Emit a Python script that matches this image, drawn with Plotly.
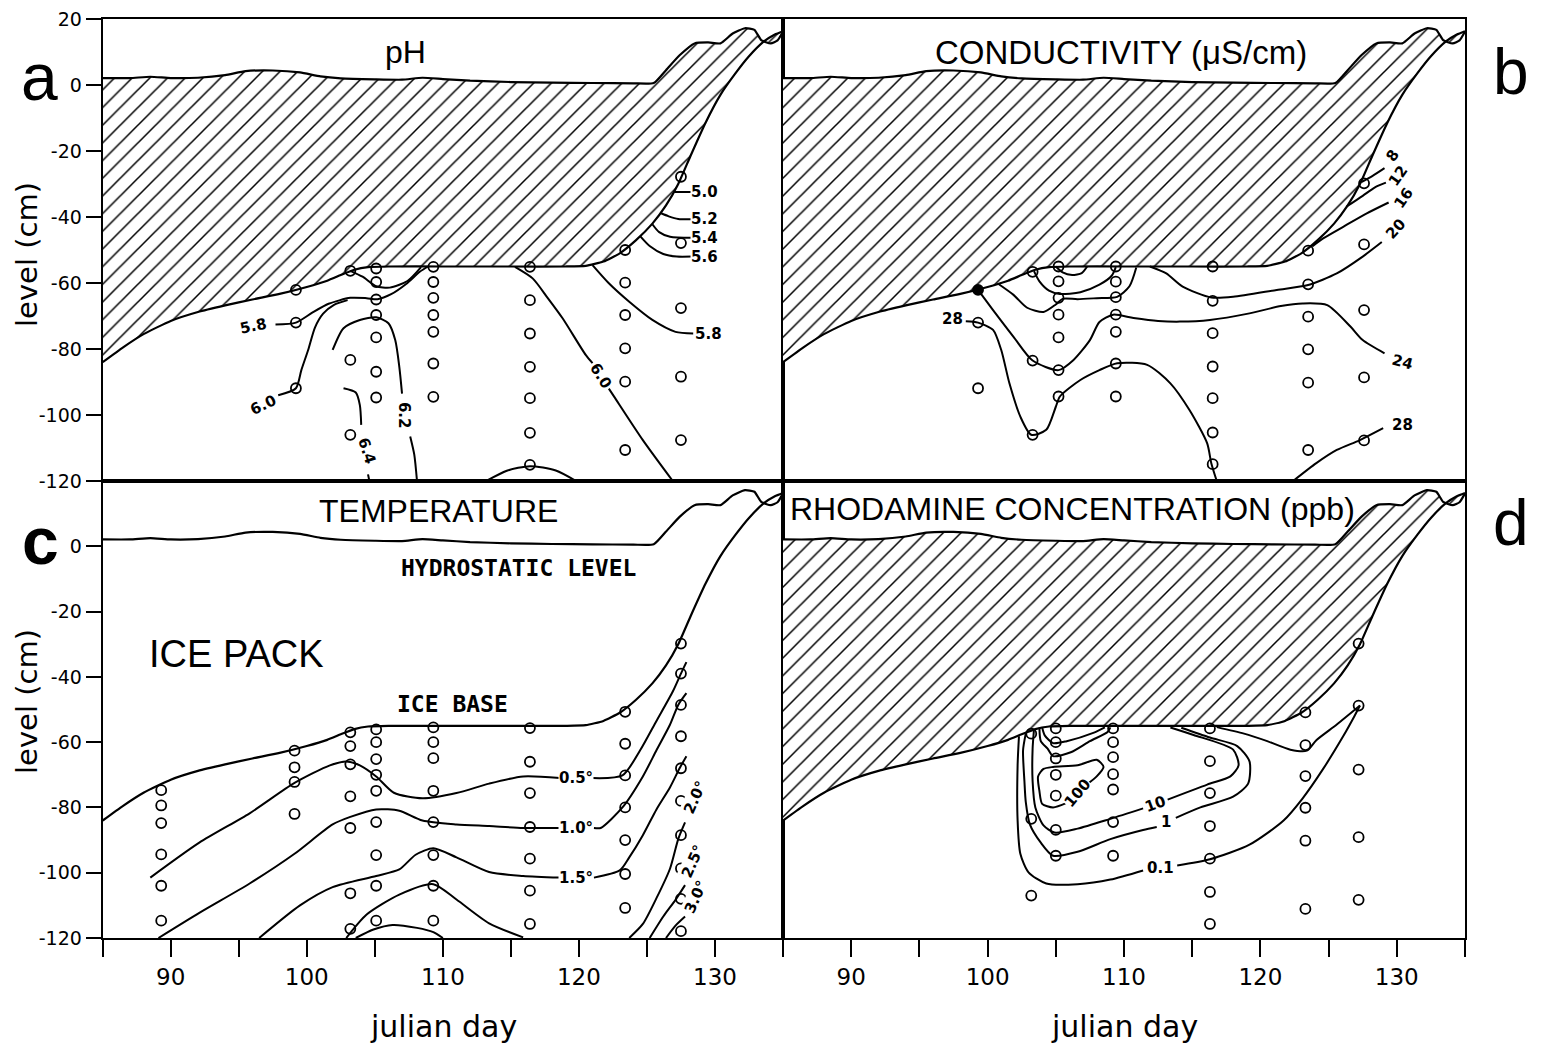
import plotly.graph_objects as go

# ------------------------------------------------------------------ data ----
# Ice surface (hydrostatic level) and ice base: julian day vs level (cm)
HYDRO_DAY = [85.0, 87.0, 88.5, 90.0, 92.0, 94.0, 95.5, 97.5, 99.5, 101.0, 102.5, 105.0,
             107.0, 108.5, 110.0, 112.0, 115.0, 118.0, 121.0, 124.0, 125.5, 126.4, 127.4,
             128.5, 129.5, 130.4, 131.3, 132.2, 132.9, 133.4, 134.1, 134.6, 135.0]
HYDRO_LEVEL = [2.1, 2.1, 2.5, 2.1, 2.2, 3.0, 4.2, 4.4, 3.8, 2.6, 2.0, 1.7,
               1.6, 2.2, 1.8, 1.3, 0.9, 0.7, 0.6, 0.5, 0.6, 4.5, 9.0,
               12.6, 12.9, 12.6, 15.6, 17.2, 16.7, 13.6, 12.6, 13.5, 16.2]
ICE_BASE_DAY = [85.0, 86.5, 88.0, 90.0, 92.0, 94.0, 96.0, 98.0, 100.0, 101.5, 102.5, 103.5,
                104.5, 106.0, 110.0, 115.0, 119.0, 120.5, 121.8, 123.0, 124.2, 125.4, 126.4,
                127.3, 128.2, 129.3, 130.4, 131.5, 132.5, 133.6, 134.4, 135.0]
ICE_BASE_LEVEL = [-84.0, -79.5, -75.5, -71.5, -68.8, -66.8, -65.0, -63.3, -61.2, -59.3, -57.6, -56.0,
                  -55.2, -55.0, -55.0, -55.0, -55.0, -54.8, -53.5, -51.0, -47.0, -42.0, -36.5,
                  -30.0, -21.5, -11.5, -3.0, 3.5, 8.7, 13.2, 15.3, 16.3]

# Sampling stations (day) and sampled levels (cm) for each panel
PH_STATION_DAY = [99.2, 103.2, 105.1, 109.3, 116.4, 123.4, 127.5]
PH_STATION_LEVELS = [
    [-62.1, -72.0, -91.9],
    [-56.3, -83.3, -106.0],
    [-55.6, -59.7, -65.0, -69.7, -76.5, -86.9, -94.7],
    [-55.1, -59.7, -64.5, -69.7, -74.8, -84.4, -94.5],
    [-55.1, -65.2, -75.3, -85.4, -94.9, -105.4, -115.1],
    [-50.0, -59.9, -69.7, -79.8, -89.9, -110.6],
    [-27.8, -47.9, -67.6, -88.4, -107.6],
]
COND_STATION_DAY = [99.3, 103.3, 105.2, 109.4, 116.5, 123.5, 127.6]
COND_STATION_LEVELS = [
    [-72.0, -91.9],
    [-56.6, -83.5, -106.0],
    [-55.0, -59.5, -64.5, -69.6, -76.5, -86.4, -94.4],
    [-55.0, -59.6, -64.3, -69.6, -74.8, -84.4, -94.4],
    [-55.0, -65.4, -75.2, -85.3, -94.9, -105.3, -114.9],
    [-50.2, -60.4, -70.2, -80.1, -90.2, -110.6],
    [-29.8, -48.3, -68.2, -88.6, -107.7],
]
COND_SOLID_DAY = [99.3]
COND_SOLID_LEVEL = [-62.1]
TEMP_STATION_DAY = [89.3, 99.1, 103.2, 105.1, 109.3, 116.4, 123.4, 127.5]
TEMP_STATION_LEVELS = [
    [-74.7, -79.4, -84.8, -94.4, -104.0, -114.7],
    [-62.6, -67.7, -72.2, -82.0],
    [-57.0, -61.2, -66.8, -76.6, -86.3, -106.3, -117.2],
    [-56.1, -60.0, -65.2, -70.0, -74.9, -84.5, -94.6, -104.0, -114.7],
    [-55.5, -60.0, -64.9, -74.9, -84.5, -94.6, -104.0, -114.7],
    [-55.7, -66.0, -75.6, -86.0, -95.7, -105.5, -115.7],
    [-50.7, -60.5, -70.2, -80.0, -90.0, -100.4, -110.8],
    [-29.8, -39.0, -48.6, -58.2, -68.0, -78.0, -88.5, -98.7, -108.0, -117.9],
]
RHOD_STATION_DAY = [103.2, 105.0, 109.2, 116.3, 123.3, 127.2]
RHOD_STATION_LEVELS = [
    [-57.4, -83.5, -107.0],
    [-55.8, -60.0, -65.0, -70.0, -76.4, -86.9, -94.8],
    [-55.8, -60.0, -64.6, -69.8, -74.5, -84.5, -94.8],
    [-55.8, -65.8, -75.6, -85.7, -95.7, -105.9, -115.7],
    [-50.9, -60.9, -70.4, -80.1, -90.2, -111.1],
    [-29.8, -48.8, -68.4, -89.1, -108.3],
]

# pH isolines (day, level)
PH_50 = [(127.0, -32.4), (128.3, -32.4)]
PH_52 = [(126.0, -38.8), (126.6, -39.8), (127.3, -40.6), (128.3, -40.7)]
PH_54 = [(125.4, -42.2), (125.9, -44.6), (126.7, -46.0), (128.3, -46.3)]
PH_56 = [(124.5, -45.8), (125.2, -48.8), (126.2, -51.2), (127.2, -52.0), (128.3, -52.0)]
PH_58_WEST = [(97.7, -72.6), (99.2, -72.0), (100.4, -69.0), (101.6, -66.3), (103.2, -64.5),
              (104.4, -64.6), (105.2, -64.9), (106.2, -63.4), (107.3, -60.3), (108.3, -56.6),
              (108.9, -55.0)]
PH_58_POCKET = [(103.2, -56.3), (104.1, -58.1), (105.1, -61.0), (106.1, -61.4), (107.4, -59.4),
                (108.4, -55.2)]
PH_60_WEST = [(97.9, -94.0), (99.2, -91.9), (99.6, -86.4), (100.1, -80.3), (100.6, -73.5),
              (101.2, -69.3), (102.0, -66.6), (103.0, -65.2)]
PH_62_UPPER = [(101.9, -80.3), (102.7, -73.7), (103.9, -71.2), (105.1, -70.4), (106.0, -72.2),
               (106.5, -77.3), (106.8, -85.4), (107.0, -93.5)]
PH_62_LOWER = [(107.6, -106.5), (107.9, -112.0), (108.1, -120.0)]
PH_64_UPPER = [(102.7, -91.9), (103.6, -93.2), (103.9, -97.0), (104.0, -103.0)]
PH_64_LOWER = [(104.5, -118.0), (104.6, -120.0)]
PH_FLOOR = [(113.2, -120.0), (114.7, -116.9), (116.4, -115.5), (118.3, -116.8), (119.8, -120.0)]
PH_60_EAST_UPPER = [(115.3, -55.1), (116.6, -58.6), (117.7, -64.5), (118.8, -70.7), (120.5, -81.8),
                    (121.0, -84.3)]
PH_60_EAST_LOWER = [(122.2, -92.0), (122.6, -94.5), (124.7, -107.6), (126.9, -120.0)]
PH_58_EAST = [(121.0, -54.6), (122.2, -60.1), (123.7, -65.7), (125.4, -71.2), (127.1, -74.8),
              (128.4, -75.3)]
PH_LINES = [PH_50, PH_52, PH_54, PH_56, PH_58_WEST, PH_58_POCKET, PH_60_WEST, PH_62_UPPER,
            PH_62_LOWER, PH_64_UPPER, PH_64_LOWER, PH_FLOOR, PH_60_EAST_UPPER, PH_60_EAST_LOWER,
            PH_58_EAST]
PH_LABEL_TEXT = ["5.0", "5.2", "5.4", "5.6", "5.8", "5.8", "6.0", "6.2", "6.4", "6.0"]
PH_LABEL_DAY = [129.2, 129.2, 129.2, 129.2, 129.5, 96.1, 96.8, 107.2, 104.4, 121.6]
PH_LABEL_LEVEL = [-32.4, -40.7, -46.3, -52.0, -75.4, -73.0, -97.0, -100.2, -111.0, -88.3]
PH_LABEL_ANGLE = [0, 0, 0, 0, 0, -12, -25, 90, 72, 58]

# conductivity isolines (uS/cm)
COND_8 = [(127.4, -29.4), (128.2, -27.6), (129.1, -25.2)]
COND_12 = [(126.3, -36.9), (127.5, -33.6), (128.4, -31.0), (129.2, -29.6)]
COND_16 = [(123.8, -48.9), (124.6, -46.5), (126.1, -42.9), (127.8, -38.9), (129.4, -35.6)]
COND_20 = [(111.9, -55.0), (113.1, -57.1), (114.3, -61.1), (116.4, -64.4), (118.0, -64.2),
           (121.2, -62.1), (123.5, -60.6), (125.6, -57.1), (127.5, -52.0), (128.9, -47.6)]
COND_24 = [(99.3, -62.1), (100.4, -68.2), (101.9, -76.3), (103.3, -83.5), (105.2, -86.4),
           (106.3, -83.3), (107.5, -77.3), (108.2, -71.8), (109.2, -69.6), (110.7, -70.6),
           (112.5, -71.5), (114.1, -71.7), (116.3, -71.2), (119.2, -69.2), (121.5, -67.0),
           (123.1, -66.2), (124.9, -66.7), (126.6, -73.2), (127.5, -77.3), (129.1, -81.3)]
COND_28_WEST = [(98.4, -71.6), (99.3, -72.0), (100.4, -74.2), (101.0, -80.3), (101.6, -90.4),
                (102.4, -100.5), (103.2, -106.0), (104.3, -104.5), (105.0, -97.5), (105.3, -94.4),
                (106.8, -89.4), (108.2, -86.4), (109.5, -84.3), (111.7, -84.8), (113.4, -90.4),
                (114.8, -98.5), (116.1, -108.6), (116.4, -114.6), (116.8, -120.0)]
COND_28_EAST = [(122.4, -120.0), (124.1, -114.6), (125.6, -110.6), (127.3, -107.6), (129.0, -104.0)]
COND_POCKET_A = [(105.0, -55.0), (105.5, -56.8), (106.2, -57.6), (106.9, -57.0), (107.3, -55.0)]
COND_POCKET_B = [(103.4, -56.4), (103.8, -59.5), (104.5, -62.3), (105.3, -63.3), (106.8, -62.8),
                 (108.2, -60.5), (109.1, -57.8), (109.4, -55.2)]
COND_POCKET_C = [(100.8, -60.3), (101.9, -63.6), (102.9, -67.5), (104.1, -68.8), (105.0, -66.5),
                 (105.5, -64.8), (106.6, -64.9), (108.0, -64.6), (109.5, -64.2), (110.4, -61.0),
                 (110.9, -55.3)]
COND_LINES = [COND_8, COND_12, COND_16, COND_20, COND_24, COND_28_WEST, COND_28_EAST,
              COND_POCKET_A, COND_POCKET_B, COND_POCKET_C]
COND_LABEL_TEXT = ["28", "8", "12", "16", "20", "24", "28"]
COND_LABEL_DAY = [97.4, 129.7, 130.1, 130.5, 129.9, 130.4, 130.4]
COND_LABEL_LEVEL = [-70.8, -21.6, -27.6, -34.2, -43.5, -84.0, -103.0]
COND_LABEL_ANGLE = [0, -55, -55, -55, -48, 15, 0]

# temperature isotherms (deg C)
TEMP_05_WEST = [(88.5, -101.5), (92.1, -90.8), (95.8, -81.8), (99.1, -72.5), (101.7, -67.1),
                (102.9, -65.9), (103.9, -67.1), (105.1, -70.5), (106.4, -75.5), (108.5, -77.2),
                (111.0, -75.6), (113.4, -72.7), (115.9, -70.5), (118.6, -71.0)]
TEMP_05_EAST = [(121.0, -71.0), (123.2, -70.2), (124.5, -62.5), (125.7, -53.5), (126.9, -44.5),
                (127.5, -39.0), (127.9, -35.5)]
TEMP_10_WEST = [(89.1, -120.0), (92.1, -112.3), (95.8, -103.3), (99.1, -94.2), (101.9, -85.2),
                (103.2, -82.9), (105.1, -80.6), (106.8, -81.0), (108.5, -84.0), (111.0, -85.2),
                (113.4, -85.7), (115.9, -86.3), (118.6, -86.3)]
TEMP_10_EAST = [(121.1, -86.3), (121.6, -86.3), (123.2, -80.0), (124.7, -70.5), (125.7, -62.5),
                (126.7, -54.6), (127.3, -48.6), (127.9, -45.0)]
TEMP_15_WEST = [(96.5, -120.0), (99.5, -110.0), (101.9, -104.4), (105.1, -101.0), (106.8, -99.0),
                (108.0, -94.5), (109.3, -92.5), (111.0, -95.3), (113.4, -99.8), (115.9, -101.0),
                (118.6, -101.5)]
TEMP_15_EAST = [(121.1, -101.5), (123.0, -99.3), (123.7, -95.3), (124.7, -88.5), (125.7, -80.6),
                (126.7, -73.8), (127.4, -68.0), (127.9, -64.3)]
TEMP_20_WEST = [(102.9, -120.0), (104.4, -112.8), (106.8, -106.7), (109.3, -103.5), (111.0, -108.2),
                (113.4, -115.5), (115.9, -119.8)]
TEMP_20_EAST = [(123.7, -120.0), (124.7, -115.7), (125.7, -107.8), (126.7, -98.7), (127.3, -89.7),
                (127.8, -84.6)]
TEMP_25_WEST = [(103.6, -120.0), (104.9, -117.4), (106.3, -116.0), (108.1, -116.9), (109.3, -118.2),
                (110.0, -120.0)]
TEMP_25_EAST = [(125.2, -120.0), (126.2, -113.4), (127.1, -108.3), (127.8, -103.8)]
TEMP_30_EAST = [(126.4, -120.0), (127.1, -116.2), (127.8, -113.4)]
TEMP_LINES = [TEMP_05_WEST, TEMP_05_EAST, TEMP_10_WEST, TEMP_10_EAST, TEMP_15_WEST, TEMP_15_EAST,
              TEMP_20_WEST, TEMP_20_EAST, TEMP_25_WEST, TEMP_25_EAST, TEMP_30_EAST]
TEMP_LABEL_TEXT = ["0.5\u00b0", "1.0\u00b0", "1.5\u00b0", "2.0\u00b0", "2.5\u00b0", "3.0\u00b0"]
TEMP_LABEL_DAY = [119.8, 119.8, 119.8, 128.5, 128.4, 128.6]
TEMP_LABEL_LEVEL = [-71.0, -86.4, -101.6, -77.0, -96.5, -107.5]
TEMP_LABEL_ANGLE = [0, 0, 0, -66, -66, -66]

# rhodamine isolines (ppb)
RHOD_01_RISE = [(116.8, -55.4), (118.8, -57.4), (120.5, -59.7), (122.2, -62.3), (123.4, -62.6),
                (124.1, -59.4), (125.6, -54.6), (127.3, -48.8)]
RHOD_01_FALL = [(127.3, -48.8), (126.9, -52.0), (126.1, -58.0), (124.6, -68.2), (123.1, -77.2),
                (121.7, -84.0), (119.2, -91.4), (116.3, -95.9), (113.9, -97.8)]
RHOD_01_WEST = [(111.4, -99.3), (109.0, -102.1), (106.6, -103.5), (104.3, -103.3), (103.0, -99.9),
                (102.4, -94.2), (102.2, -84.0), (102.2, -67.1), (102.3, -58.2)]
RHOD_1_WEST = [(102.8, -57.3), (102.6, -62.5), (102.7, -72.0), (102.8, -78.4), (103.1, -85.2),
               (103.9, -90.8), (104.8, -94.8), (106.6, -93.6), (109.0, -89.7), (111.4, -86.9),
               (112.4, -86.0)]
RHOD_1_EAST = [(113.8, -83.2), (115.6, -80.0), (118.0, -76.7), (119.1, -72.7), (119.2, -65.9),
               (118.3, -61.2), (116.3, -58.6), (114.2, -55.6)]
RHOD_10_WEST = [(103.4, -56.2), (103.3, -62.0), (103.3, -72.0), (103.5, -80.0), (104.1, -85.5),
                (104.9, -87.7), (106.6, -86.5), (109.0, -83.5), (111.4, -80.3)]
RHOD_10_EAST = [(113.2, -77.6), (116.1, -73.0), (117.8, -70.5), (118.4, -67.1), (118.0, -62.3),
                (115.1, -57.8), (113.4, -55.5)]
RHOD_POCKET_OUTER = [(103.8, -55.6), (103.9, -59.7), (104.4, -62.0), (104.8, -64.3), (106.1, -63.1),
                     (107.5, -59.7), (108.8, -56.9), (109.0, -55.5)]
RHOD_POCKET_INNER = [(104.0, -55.5), (104.2, -58.0), (104.8, -60.3), (105.8, -59.7), (107.8, -57.1),
                     (108.6, -55.5)]
RHOD_100_UPPER = [(107.3, -72.9), (108.0, -70.5), (108.5, -67.6), (108.0, -65.4), (106.6, -67.1),
                  (104.8, -67.6), (104.1, -68.2), (103.7, -70.5), (103.8, -75.0), (104.0, -78.9),
                  (104.8, -80.0), (105.8, -78.6)]
RHOD_LINES = [RHOD_01_RISE, RHOD_01_FALL, RHOD_01_WEST, RHOD_1_WEST, RHOD_1_EAST, RHOD_10_WEST,
              RHOD_10_EAST, RHOD_POCKET_OUTER, RHOD_POCKET_INNER, RHOD_100_UPPER]
RHOD_LABEL_TEXT = ["100", "10", "1", "0.1"]
RHOD_LABEL_DAY = [106.6, 112.3, 113.1, 112.7]
RHOD_LABEL_LEVEL = [-75.6, -79.0, -84.6, -98.6]
RHOD_LABEL_ANGLE = [-50, -20, 0, 0]

# axis ticks
DAY_TICK_VALUES = [85, 90, 95, 100, 105, 110, 115, 120, 125, 130, 135]
DAY_TICK_LABELS = ["", "90", "", "100", "", "110", "", "120", "", "130", ""]
LEVEL_TICK_VALUES = [-120, -100, -80, -60, -40, -20, 0, 20]
LEVEL_TICK_LABELS_TOP = ["-120", "-100", "-80", "-60", "-40", "-20", "0", "20"]
LEVEL_TICK_LABELS_BOTTOM = ["-120", "-100", "-80", "-60", "-40", "-20", "0", ""]

# ---------------------------------------------------------------- layout ----
W, H = 1544, 1048
COLS = {"a": (102.7, 783.0), "b": (783.0, 1465.0), "c": (102.7, 783.0), "d": (783.0, 1465.0)}
ROWS = {"a": (19.0, 481.0), "b": (19.0, 481.0), "c": (481.0, 938.0), "d": (481.0, 938.0)}
AXES = {"a": ("x", "y"), "b": ("x2", "y2"), "c": ("x3", "y3"), "d": ("x4", "y4")}
INK = "black"
SANS = "DejaVu Sans"


def fx(px):
    return px / W


def fy(py):
    return 1 - py / H


fig = go.Figure()


def add_curve(panel, seq, width=2.0, smoothing=0.7):
    xa, ya = AXES[panel]
    fig.add_trace(go.Scatter(
        x=[p[0] for p in seq], y=[p[1] for p in seq], mode="lines",
        xaxis=xa, yaxis=ya, hoverinfo="skip",
        line=dict(color=INK, width=width, shape="spline", smoothing=smoothing)))


def add_ice(panel, hatched):
    xa, ya = AXES[panel]
    if hatched:
        fig.add_trace(go.Scatter(
            x=HYDRO_DAY + ICE_BASE_DAY[::-1], y=HYDRO_LEVEL + ICE_BASE_LEVEL[::-1],
            mode="lines", fill="toself", xaxis=xa, yaxis=ya, hoverinfo="skip",
            line=dict(width=0, color="rgba(0,0,0,0)"),
            fillcolor="white",
            fillpattern=dict(shape="/", size=12.5, solidity=0.12, fgcolor=INK,
                             bgcolor="white", fillmode="replace")))
    add_curve(panel, list(zip(HYDRO_DAY, HYDRO_LEVEL)), width=2.2, smoothing=0.5)
    add_curve(panel, list(zip(ICE_BASE_DAY, ICE_BASE_LEVEL)), width=2.2, smoothing=0.5)


def add_stations(panel, days, levels, symbol="circle-open"):
    xa, ya = AXES[panel]
    xs, ys = [], []
    for d, lv in zip(days, levels):
        for v in lv:
            xs.append(d)
            ys.append(v)
    fig.add_trace(go.Scatter(
        x=xs, y=ys, mode="markers", xaxis=xa, yaxis=ya, hoverinfo="skip",
        marker=dict(symbol=symbol, size=10, color=INK, line=dict(color=INK, width=1.8))))


def add_labels(panel, texts, days, levels, angles):
    xa, ya = AXES[panel]
    for t, d, lv, ang in zip(texts, days, levels, angles):
        fig.add_annotation(x=d, y=lv, xref=xa, yref=ya, text="<b>%s</b>" % t, showarrow=False,
                           textangle=ang, bgcolor="white", borderpad=0,
                           xanchor="center", yanchor="middle",
                           font=dict(family=SANS, size=15, color=INK))


def note(text, px, py, size, family=SANS, angle=0):
    fig.add_annotation(x=fx(px), y=fy(py), xref="paper", yref="paper", text=text,
                       showarrow=False, textangle=angle, xanchor="center", yanchor="middle",
                       font=dict(family=family, size=size, color=INK))


# panel a: pH
add_ice("a", True)
for seq in PH_LINES:
    add_curve("a", seq)
add_stations("a", PH_STATION_DAY, PH_STATION_LEVELS)
add_labels("a", PH_LABEL_TEXT, PH_LABEL_DAY, PH_LABEL_LEVEL, PH_LABEL_ANGLE)

# panel b: conductivity
add_ice("b", True)
for seq in COND_LINES:
    add_curve("b", seq)
add_stations("b", COND_STATION_DAY, COND_STATION_LEVELS)
add_stations("b", COND_SOLID_DAY, [COND_SOLID_LEVEL], symbol="circle")
add_labels("b", COND_LABEL_TEXT, COND_LABEL_DAY, COND_LABEL_LEVEL, COND_LABEL_ANGLE)

# panel c: temperature
add_ice("c", False)
for seq in TEMP_LINES:
    add_curve("c", seq)
add_stations("c", TEMP_STATION_DAY, TEMP_STATION_LEVELS)
add_labels("c", TEMP_LABEL_TEXT, TEMP_LABEL_DAY, TEMP_LABEL_LEVEL, TEMP_LABEL_ANGLE)

# panel d: rhodamine
add_ice("d", True)
for seq in RHOD_LINES:
    add_curve("d", seq)
add_stations("d", RHOD_STATION_DAY, RHOD_STATION_LEVELS)
add_labels("d", RHOD_LABEL_TEXT, RHOD_LABEL_DAY, RHOD_LABEL_LEVEL, RHOD_LABEL_ANGLE)

# axes
layout_axes = {}
for panel, (xa, ya) in AXES.items():
    xkey = "xaxis" + xa[1:]
    ykey = "yaxis" + ya[1:]
    bottom = panel in ("c", "d")
    left = panel in ("a", "c")
    xd = dict(domain=[fx(COLS[panel][0]), fx(COLS[panel][1])], range=[85, 135], anchor=ya,
              showline=True, mirror=True, linecolor=INK, linewidth=2, showgrid=False,
              zeroline=False, automargin=False, fixedrange=True)
    if bottom:
        xd.update(tickmode="array", tickvals=DAY_TICK_VALUES, ticktext=DAY_TICK_LABELS,
                  ticks="outside", ticklen=17, tickwidth=2.2, tickcolor=INK,
                  tickfont=dict(family=SANS, size=23, color=INK))
    else:
        xd.update(showticklabels=False, ticks="")
    yd = dict(domain=[fy(ROWS[panel][1]), fy(ROWS[panel][0])], range=[-120, 20], anchor=xa,
              showline=True, mirror=True, linecolor=INK, linewidth=2, showgrid=False,
              zeroline=False, automargin=False, fixedrange=True)
    if left:
        yd.update(tickmode="array", tickvals=LEVEL_TICK_VALUES,
                  ticktext=LEVEL_TICK_LABELS_BOTTOM if bottom else LEVEL_TICK_LABELS_TOP,
                  ticks="outside", ticklen=15, tickwidth=2.2, tickcolor=INK,
                  tickfont=dict(family=SANS, size=19, color=INK))
    else:
        yd.update(showticklabels=False, ticks="")
    layout_axes[xkey] = xd
    layout_axes[ykey] = yd

fig.update_layout(width=W, height=H, margin=dict(l=0, r=0, t=0, b=0),
                  paper_bgcolor="white", plot_bgcolor="white", showlegend=False,
                  template="none", font=dict(family=SANS, color=INK), **layout_axes)

# titles and labels
note("pH", 405, 52, 32, family="Liberation Sans")
note("CONDUCTIVITY (\u03bcS/cm)", 1121, 52, 33, family="Liberation Sans")
note("TEMPERATURE", 438, 511, 32, family="Liberation Sans")
note("RHODAMINE CONCENTRATION (ppb)", 1072, 509, 32, family="Liberation Sans")
note("<b>HYDROSTATIC LEVEL</b>", 518, 568, 23, family="DejaVu Sans Mono")
note("<b>ICE BASE</b>", 452, 704, 23, family="DejaVu Sans Mono")
note("ICE PACK", 237, 654, 38, family="Liberation Sans")
note("level (cm)", 27, 255, 29, angle=-90)
note("level (cm)", 27, 702, 29, angle=-90)
note("julian day", 443, 1026, 30)
note("julian day", 1124, 1026, 30)
note("a", 39, 77, 66, family="Liberation Sans")
note("b", 1511, 72, 64, family="Liberation Sans")
note("<b>c</b>", 40, 541, 66, family="Liberation Sans")
note("d", 1511, 523, 64, family="Liberation Sans")

fig.write_html("out.html")
